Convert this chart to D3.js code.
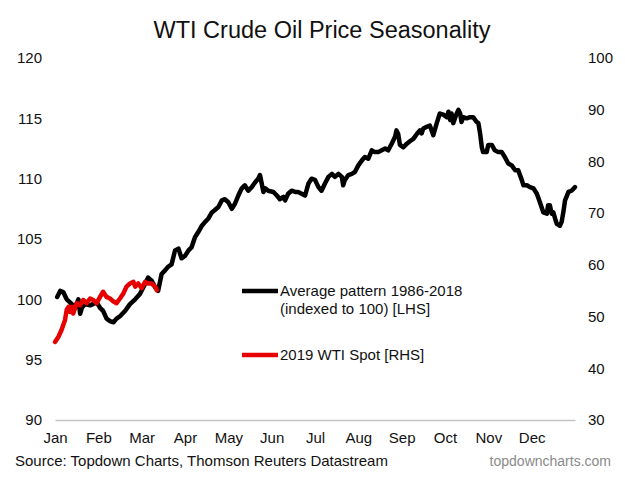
<!DOCTYPE html>
<html>
<head>
<meta charset="utf-8">
<script src="https://cdn.jsdelivr.net/npm/d3@7"></script>
<style>
body { margin: 0; background: #fff; }
text { font-family: Arial, "Liberation Sans", sans-serif; }
.axis text { font-size: 15px; fill: #111; }
.legend { font-size: 15px; fill: #111; }
</style>
</head>
<body>
<div id="chart"></div>
<script>

// DATA (x = month index from start of Jan, value)

const months = ["Jan","Feb","Mar","Apr","May","Jun","Jul","Aug","Sep","Oct","Nov","Dec"];
const leftTicks = [90, 95, 100, 105, 110, 115, 120];
const rightTicks = [30, 40, 50, 60, 70, 80, 90, 100];

// average pattern 1986-2018, indexed to 100 (LHS)
const avgPattern = [
    [0.05,100.2],[0.12,100.7],[0.19,100.6],[0.27,100.0],[0.39,99.6],[0.46,99.3],[0.54,100.0],[0.58,98.8],
    [0.62,99.3],[0.69,99.6],[0.81,99.5],[0.96,99.75],[1.04,99.3],[1.11,99.05],[1.19,98.4],[1.27,98.2],
    [1.35,98.1],[1.42,98.4],[1.50,98.6],[1.62,99.05],[1.73,99.6],[1.85,100.0],[1.96,100.45],[2.04,101.0],
    [2.15,101.8],[2.23,101.55],[2.31,101.0],[2.38,100.7],[2.46,102.1],[2.54,102.4],[2.61,102.7],[2.69,102.9],
    [2.77,104.05],[2.85,104.2],[2.92,103.4],[3.00,103.6],[3.08,104.05],[3.15,104.3],[3.23,105.15],[3.31,105.6],
    [3.39,106.1],[3.46,106.4],[3.54,106.7],[3.62,107.2],[3.69,107.4],[3.77,107.65],[3.85,108.2],[3.92,108.3],
    [4.00,108.05],[4.08,107.5],[4.15,107.9],[4.23,108.6],[4.31,109.2],[4.38,109.45],[4.46,109.0],[4.54,109.3],
    [4.62,109.7],[4.69,110.0],[4.73,110.3],[4.77,109.6],[4.81,108.9],[4.85,109.2],[4.92,109.0],[5.04,108.9],
    [5.12,108.6],[5.19,108.3],[5.27,108.5],[5.31,108.2],[5.38,108.75],[5.46,109.0],[5.54,108.9],[5.61,108.9],
    [5.69,108.75],[5.77,108.6],[5.85,109.6],[5.92,110.0],[6.00,109.9],[6.08,109.3],[6.15,109.0],[6.23,109.6],
    [6.31,110.15],[6.39,110.4],[6.46,110.15],[6.54,110.4],[6.62,110.15],[6.65,109.45],[6.69,109.9],[6.77,110.3],
    [6.85,110.4],[6.92,110.55],[7.00,111.1],[7.08,111.5],[7.15,111.8],[7.23,111.65],[7.31,112.35],[7.38,112.2],
    [7.46,112.2],[7.54,112.35],[7.62,112.5],[7.69,112.35],[7.77,112.9],[7.85,113.5],[7.88,114.0],[7.92,113.7],
    [7.96,112.8],[8.04,112.6],[8.12,112.9],[8.19,113.1],[8.27,113.3],[8.35,113.7],[8.42,114.0],[8.46,113.75],
    [8.50,114.15],[8.58,114.3],[8.65,114.4],[8.73,113.6],[8.81,114.6],[8.88,115.4],[8.96,115.3],[9.04,115.1],
    [9.08,115.55],[9.12,114.85],[9.15,115.4],[9.19,114.6],[9.27,115.4],[9.31,115.7],[9.35,115.4],[9.38,114.7],
    [9.42,115.1],[9.50,115.0],[9.58,115.1],[9.65,115.1],[9.73,114.7],[9.77,114.6],[9.81,113.75],[9.85,112.6],
    [9.88,112.2],[9.96,112.2],[10.00,112.8],[10.08,112.8],[10.15,112.35],[10.23,112.2],[10.31,112.2],[10.38,111.8],
    [10.46,111.25],[10.54,111.1],[10.62,110.7],[10.69,110.7],[10.77,109.9],[10.81,109.45],[10.89,109.45],[10.96,109.3],
    [11.04,109.2],[11.12,108.75],[11.19,108.05],[11.27,107.2],[11.35,107.1],[11.38,107.8],[11.42,107.8],[11.46,107.1],
    [11.50,107.2],[11.54,106.7],[11.58,106.25],[11.65,106.1],[11.69,106.4],[11.73,107.2],[11.77,108.2],[11.85,108.9],
    [11.92,109.0],[12.00,109.3]
];

// 2019 WTI spot, USD (RHS)
const spot2019 = [
    [0.00,45.1],[0.08,46.1],[0.15,47.4],[0.23,49.3],[0.27,51.3],[0.31,51.9],[0.35,50.9],[0.39,51.9],
    [0.42,50.6],[0.50,52.6],[0.58,52.2],[0.65,53.2],[0.73,52.6],[0.81,53.5],[0.88,53.2],[0.96,52.6],
    [1.04,53.8],[1.11,54.8],[1.19,53.8],[1.27,53.5],[1.35,52.9],[1.42,52.6],[1.50,53.5],[1.58,54.5],
    [1.65,55.8],[1.73,56.4],[1.81,56.7],[1.85,55.8],[1.92,56.4],[2.00,55.5],[2.08,56.7],[2.15,56.4],
    [2.23,56.4],[2.31,55.8],[2.35,55.1]
];

// MAKE SVG CANVAS

const width = 625;
const height = 483;
const margin = {top: 58, left: 55, right: 50, bottom: 63};
const svg = d3.select("#chart")
    .append("svg")
    .attr("width", width)
    .attr("height", height);

// SCALES

const xScale = d3.scaleLinear()
    .domain([0, 12])
    .range([margin.left, width - margin.right]);

const yLeft = d3.scaleLinear()
    .domain([90, 120])
    .range([height - margin.bottom, margin.top]);

const yRight = d3.scaleLinear()
    .domain([30, 100])
    .range([height - margin.bottom, margin.top]);

// TITLE

svg.append("text")
    .attr("x", 322)
    .attr("y", 38)
    .attr("text-anchor", "middle")
    .style("font-size", "23.5px")
    .style("fill", "#111")
    .text("WTI Crude Oil Price Seasonality");

// AXIS

const xAxis = svg.append("g")
    .attr("class", "axis")
    .attr("transform", `translate(0, ${height - margin.bottom})`)
    .call(d3.axisBottom(xScale)
        .tickValues(d3.range(12))
        .tickFormat(function(d) { return months[d]; })
        .tickSize(0)
        .tickPadding(12));
xAxis.select(".domain").attr("stroke", "#c4c4c4").attr("stroke-width", 1.5);
xAxis.selectAll("text").attr("font-family", null).attr("font-size", null);

const leftAxis = svg.append("g")
    .attr("class", "axis")
    .attr("transform", `translate(${margin.left}, 0)`)
    .call(d3.axisLeft(yLeft).tickValues(leftTicks).tickSize(0).tickPadding(13));
leftAxis.select(".domain").remove();
leftAxis.selectAll("text").attr("font-family", null).attr("font-size", null);

const rightAxis = svg.append("g")
    .attr("class", "axis")
    .attr("transform", `translate(${width - margin.right}, 0)`)
    .call(d3.axisRight(yRight).tickValues(rightTicks).tickSize(0).tickPadding(13));
rightAxis.select(".domain").remove();
rightAxis.selectAll("text").attr("font-family", null).attr("font-size", null);

// LINES

const avgLine = d3.line()
    .x(function(d) { return xScale(d[0]); })
    .y(function(d) { return yLeft(d[1]); });

const spotLine = d3.line()
    .x(function(d) { return xScale(d[0]); })
    .y(function(d) { return yRight(d[1]); });

svg.append("path")
    .datum(avgPattern)
    .attr("d", avgLine)
    .attr("fill", "none")
    .attr("stroke", "#000")
    .attr("stroke-width", 4.5)
    .attr("stroke-linejoin", "round")
    .attr("stroke-linecap", "round");

svg.append("path")
    .datum(spot2019)
    .attr("d", spotLine)
    .attr("fill", "none")
    .attr("stroke", "#e60000")
    .attr("stroke-width", 4.5)
    .attr("stroke-linejoin", "round")
    .attr("stroke-linecap", "round");

// LEGEND

svg.append("line")
    .attr("x1", 242).attr("x2", 278)
    .attr("y1", 291).attr("y2", 291)
    .attr("stroke", "#000").attr("stroke-width", 4.5);

svg.append("text")
    .attr("class", "legend")
    .attr("x", 280).attr("y", 296)
    .text("Average pattern 1986-2018");

svg.append("text")
    .attr("class", "legend")
    .attr("x", 280).attr("y", 314)
    .text("(indexed to 100) [LHS]");

svg.append("line")
    .attr("x1", 242).attr("x2", 278)
    .attr("y1", 355).attr("y2", 355)
    .attr("stroke", "#e60000").attr("stroke-width", 4.5);

svg.append("text")
    .attr("class", "legend")
    .attr("x", 280).attr("y", 360)
    .text("2019 WTI Spot [RHS]");

// SOURCE

svg.append("text")
    .attr("x", 15)
    .attr("y", 466)
    .style("font-size", "15px")
    .style("fill", "#111")
    .text("Source: Topdown Charts, Thomson Reuters Datastream");

svg.append("text")
    .attr("x", 611)
    .attr("y", 466)
    .attr("text-anchor", "end")
    .style("font-size", "14px")
    .style("fill", "#8a8a8a")
    .text("topdowncharts.com");

</script>
</body>
</html>
